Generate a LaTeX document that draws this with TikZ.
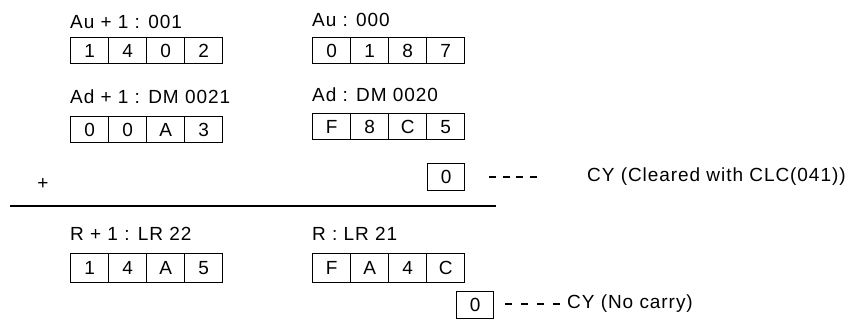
\documentclass[tikz,border=0pt]{standalone}
\usepackage{fontspec}
\setmainfont{Liberation Sans}[LetterSpace=5]
\begin{document}
\begin{tikzpicture}[x=1pt,y=-1pt,
  txt/.style={font=\fontsize{19}{22}\selectfont},
  cell/.style={txt, draw, line width=1.4pt, minimum width=38pt, minimum height=26pt, inner sep=0pt, anchor=north west},
  lbl/.style={txt, anchor=base west, inner sep=0pt},
  dashline/.style={line width=1.4pt}]
\useasboundingbox[fill=white] (0,0) rectangle (850,323);
% row 1
\node[lbl] (lauh) at (70,29) {Au + 1 : 001};
\node[lbl] (lau) at (312,27) {Au : 000};
\foreach \v [count=\i] in {1,4,0,2} \node[cell] (ah\i) at ({70+38*(\i-1)},37) {\v};
\foreach \v [count=\i] in {0,1,8,7} \node[cell] (al\i) at ({312+38*(\i-1)},37) {\v};
% row 2
\node[lbl] (ladh) at (70,104) {Ad + 1 : DM 0021};
\node[lbl] (lad) at (312,102) {Ad : DM 0020};
\foreach \v [count=\i] in {0,0,A,3} \node[cell] (bh\i) at ({70+38*(\i-1)},116) {\v};
\foreach \v [count=\i] in {F,8,C,5} \node[cell] (bl\i) at ({312+38*(\i-1)},113) {\v};
% carry in
\node[cell, minimum width=37pt, minimum height=27pt] (cy1) at (427,163) {0};
\node[txt, anchor=west, inner sep=0pt] (cy1t) at (587,177) {CY (Cleared with CLC(041))};
\coordinate (d1a) at (489,177);
\coordinate (d1b) at (537,177);
\draw[dashline, dash pattern=on 7pt off 6.7pt] (d1a) -- (d1b);
\node[txt, inner sep=0pt] (plus) at (43,184) {+};
\coordinate (ruleL) at (10,206);
\coordinate (ruleR) at (496,206);
\draw[line width=1.8pt] (ruleL) -- (ruleR);
% result
\node[lbl] (lrh) at (70,240) {R + 1 : LR 22};
\node[lbl] (lr) at (312,240) {R : LR 21};
\foreach \v [count=\i] in {1,4,A,5} \node[cell, minimum height=29pt] (rh\i) at ({70+38*(\i-1)},253) {\v};
\foreach \v [count=\i] in {F,A,4,C} \node[cell, minimum height=29pt] (rl\i) at ({312+38*(\i-1)},253) {\v};
\node[cell, minimum width=37pt, minimum height=27pt] (cy2) at (456,291) {0};
\coordinate (d2a) at (505,304);
\coordinate (d2b) at (560,304);
\draw[dashline, dash pattern=on 7pt off 9pt] (d2a) -- (d2b);
\node[txt, anchor=west, inner sep=0pt] (cy2t) at (567,304) {CY (No carry)};
\end{tikzpicture}
\end{document}
